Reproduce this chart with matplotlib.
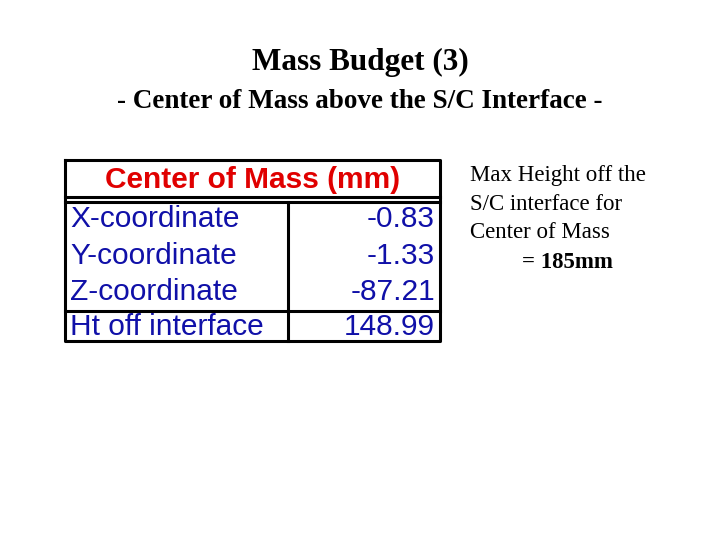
import matplotlib.pyplot as plt

title = "Mass Budget (3)"
subtitle = "- Center of Mass above the S/C Interface -"
header = "Center of Mass (mm)"
row_labels = ["X-coordinate", "Y-coordinate", "Z-coordinate", "Ht off interface"]
row_values = ["-0.83", "-1.33", "-87.21", "148.99"]
note_lines = ["Max Height off the", "S/C interface for", "Center of Mass"]
note_result = "= 185mm"

fig = plt.figure(figsize=(7.2, 5.4), dpi=100)
ax = fig.add_axes([0, 0, 1, 1])
ax.set_xlim(0, 720)
ax.set_ylim(540, 0)
ax.axis("off")

serif = ["Liberation Serif", "DejaVu Serif"]
sans = ["Liberation Sans", "DejaVu Sans"]

ax.text(360, 62, title, ha="center", va="center", fontsize=22.5, fontweight="bold", family=serif)
ax.text(360, 101, subtitle, ha="center", va="center", fontsize=19.5, fontweight="bold", family=serif)

# table frame
left, right, top, bottom, mid = 65, 440, 160, 341, 288
lw = 2.2
ax.plot([left, right, right, left, left], [top, top, bottom, bottom, top], color="black", lw=lw)
ax.plot([left, right], [197, 197], color="black", lw=lw)
ax.plot([left, right], [202, 202], color="black", lw=lw)
ax.plot([left, right], [311, 311], color="black", lw=lw)
ax.plot([mid, mid], [202, bottom], color="black", lw=lw)

ax.text((left + right) / 2, 180, header, ha="center", va="center", fontsize=21.5,
        fontweight="bold", color="#e00000", family=sans)
row_y = [219, 256, 292, 327]
for label, value, y in zip(row_labels, row_values, row_y):
    ax.text(left + 5, y, label, ha="left", va="center", fontsize=21.5, color="#1010a8", family=sans)
    ax.text(right - 5, y, value, ha="right", va="center", fontsize=21.5, color="#1010a8", family=sans)

for i, line in enumerate(note_lines):
    ax.text(470, 176 + i * 28.5, line, ha="left", va="center", fontsize=16.5, family=serif)
ax.text(522, 262, note_result, ha="left", va="center", fontsize=16.5, fontweight="bold", family=serif)

fig.savefig("out.png", dpi=100)
